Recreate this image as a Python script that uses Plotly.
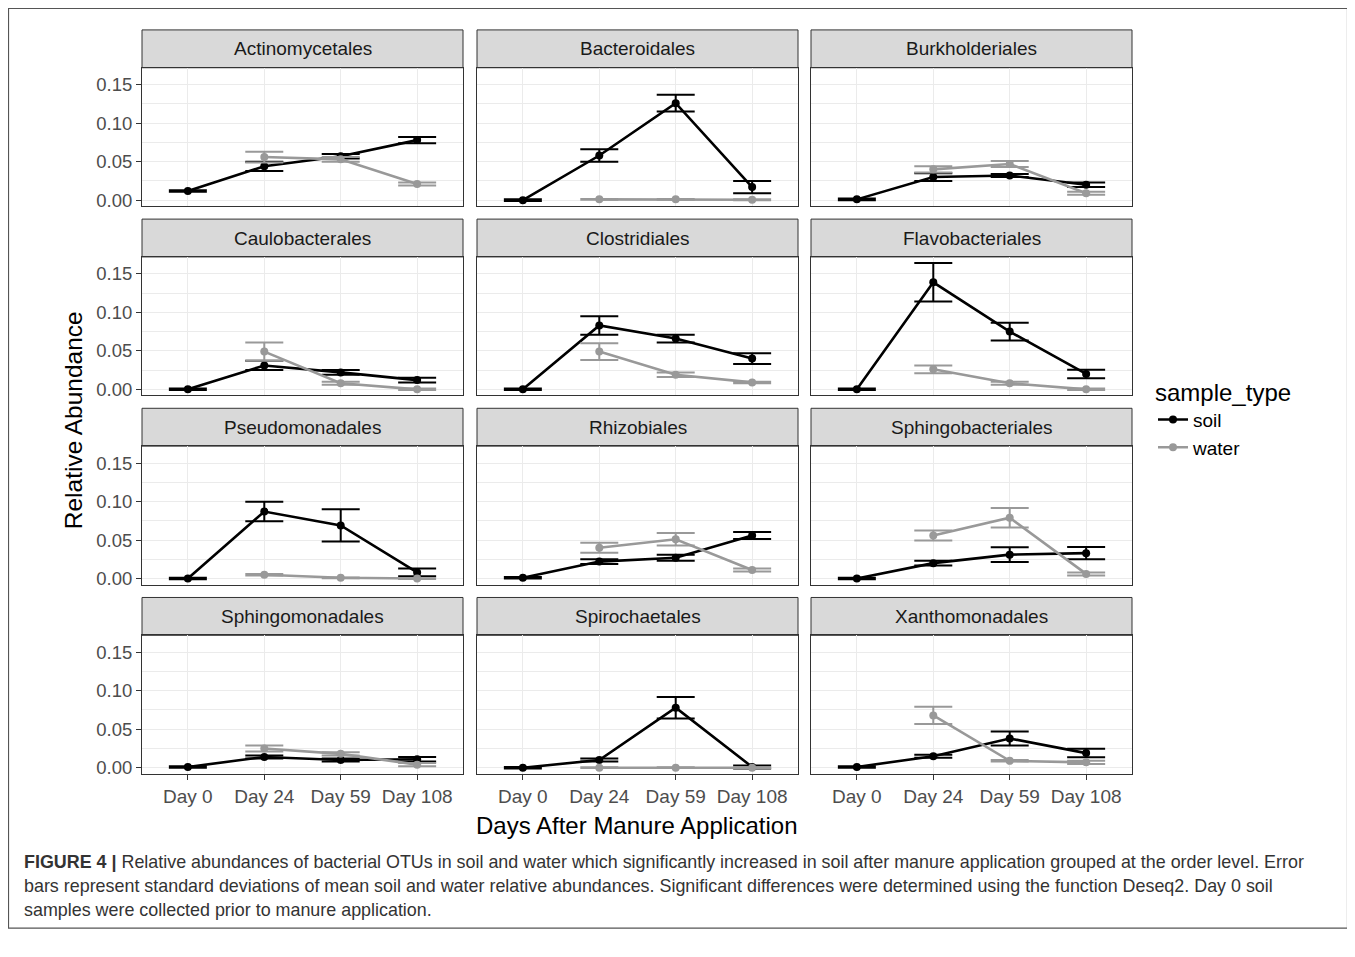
import plotly.graph_objects as go

# ---------------- data ----------------
days = ["Day 0", "Day 24", "Day 59", "Day 108"]
water_days = ["Day 24", "Day 59", "Day 108"]

orders = ["Actinomycetales", "Bacteroidales", "Burkholderiales",
          "Caulobacterales", "Clostridiales", "Flavobacteriales",
          "Pseudomonadales", "Rhizobiales", "Sphingobacteriales",
          "Sphingomonadales", "Spirochaetales", "Xanthomonadales"]

soil_mean = [
    [0.012, 0.044, 0.057, 0.078],
    [0.000, 0.058, 0.126, 0.017],
    [0.001, 0.030, 0.032, 0.020],
    [0.000, 0.031, 0.022, 0.012],
    [0.000, 0.083, 0.066, 0.040],
    [0.000, 0.139, 0.075, 0.020],
    [0.000, 0.087, 0.069, 0.008],
    [0.001, 0.022, 0.027, 0.056],
    [0.000, 0.020, 0.031, 0.033],
    [0.001, 0.014, 0.010, 0.011],
    [0.000, 0.010, 0.078, 0.001],
    [0.001, 0.015, 0.038, 0.019],
]
soil_sd = [
    [0.001, 0.006, 0.003, 0.004],
    [0.001, 0.008, 0.011, 0.008],
    [0.001, 0.005, 0.002, 0.003],
    [0.001, 0.006, 0.003, 0.003],
    [0.001, 0.012, 0.005, 0.007],
    [0.001, 0.025, 0.0115, 0.0056],
    [0.001, 0.0127, 0.021, 0.005],
    [0.001, 0.003, 0.004, 0.0045],
    [0.001, 0.003, 0.0095, 0.008],
    [0.001, 0.002, 0.002, 0.003],
    [0.001, 0.002, 0.014, 0.002],
    [0.001, 0.002, 0.009, 0.0055],
]
water_mean = [
    [0.056, 0.053, 0.021],
    [0.001, 0.001, 0.0005],
    [0.040, 0.047, 0.009],
    [0.049, 0.008, 0.000],
    [0.049, 0.019, 0.009],
    [0.026, 0.008, 0.000],
    [0.005, 0.001, 0.000],
    [0.040, 0.051, 0.011],
    [0.056, 0.079, 0.006],
    [0.025, 0.018, 0.004],
    [0.000, 0.000, 0.000],
    [0.068, 0.009, 0.007],
]
water_sd = [
    [0.007, 0.003, 0.002],
    [0.0005, 0.0005, 0.0005],
    [0.004, 0.004, 0.002],
    [0.012, 0.002, 0.001],
    [0.011, 0.003, 0.001],
    [0.005, 0.002, 0.001],
    [0.001, 0.0005, 0.0005],
    [0.0065, 0.008, 0.002],
    [0.0065, 0.0127, 0.002],
    [0.004, 0.002, 0.002],
    [0.0005, 0.0005, 0.0005],
    [0.0113, 0.001, 0.002],
]

y_ticks = [0.00, 0.05, 0.10, 0.15]
y_ticktext = ["0.00", "0.05", "0.10", "0.15"]

caption_lines = [
    "<b>FIGURE 4 |</b> Relative abundances of bacterial OTUs in soil and water which significantly increased in soil after manure application grouped at the order level. Error",
    "bars represent standard deviations of mean soil and water relative abundances. Significant differences were determined using the function Deseq2. Day 0 soil",
    "samples were collected prior to manure application.",
]

# ---------------- layout geometry (page pixels) ----------------
OFF = 8            # browser body margin
W, H = 1340, 941   # figure size so that the page fits the window
col_x = [(142, 463), (477, 798), (811, 1132)]
row_strip = [(30, 68), (220, 258), (410, 448), (600, 638)]
row_panel = [(68, 207), (258, 397), (448, 587), (638, 777)]

def px(x):
    return (x - OFF) / W

def py(y):
    return 1 - (y - OFF) / H

SOIL = "#000000"
WATER = "#999999"
FONT = "Liberation Sans, Arial, sans-serif"

fig = go.Figure()
layout = {}
shapes = []
annotations = []

xpos = {d: i for i, d in enumerate(days)}

for k, name in enumerate(orders):
    r, c = divmod(k, 3)
    idx = k + 1
    xa = "x" if idx == 1 else f"x{idx}"
    ya = "y" if idx == 1 else f"y{idx}"

    fig.add_trace(go.Scatter(
        x=[xpos[d] for d in days], y=soil_mean[k],
        error_y=dict(type="data", array=soil_sd[k], color=SOIL, thickness=2, width=19),
        mode="lines+markers", line=dict(color=SOIL, width=2.6),
        marker=dict(color=SOIL, size=8), name="soil", legendgroup="soil",
        showlegend=(k == 0), xaxis=xa, yaxis=ya))
    fig.add_trace(go.Scatter(
        x=[xpos[d] for d in water_days], y=water_mean[k],
        error_y=dict(type="data", array=water_sd[k], color=WATER, thickness=2, width=19),
        mode="lines+markers", line=dict(color=WATER, width=2.6),
        marker=dict(color=WATER, size=8), name="water", legendgroup="water",
        showlegend=(k == 0), xaxis=xa, yaxis=ya))

    x0, x1 = col_x[c]
    p0, p1 = row_panel[r]
    s0, s1 = row_strip[r]
    xkey = "xaxis" if idx == 1 else f"xaxis{idx}"
    ykey = "yaxis" if idx == 1 else f"yaxis{idx}"
    layout[xkey] = dict(
        domain=[px(x0), px(x1)], anchor=ya, range=[-0.6, 3.6],
        tickvals=list(range(4)), ticktext=days,
        showticklabels=(r == 3), ticks="outside" if r == 3 else "",
        ticklen=5, tickcolor="#333333", tickwidth=1,
        tickfont=dict(size=19, color="#4D4D4D", family=FONT),
        showgrid=True, gridcolor="#EBEBEB", gridwidth=1.2, zeroline=False,
        showline=True, mirror=True, linecolor="#333333", linewidth=1,
        fixedrange=True)
    layout[ykey] = dict(
        domain=[py(p1), py(p0)], anchor=xa, range=[-0.0078, 0.172],
        tickvals=y_ticks, ticktext=y_ticktext,
        showticklabels=(c == 0), ticks="outside" if c == 0 else "",
        ticklen=5, tickcolor="#333333", tickwidth=1,
        tickfont=dict(size=18.5, color="#4D4D4D", family=FONT),
        showgrid=True, gridcolor="#EBEBEB", gridwidth=1.2, zeroline=False,
        minor=dict(tickvals=[0.025, 0.075, 0.125], showgrid=True,
                   gridcolor="#EBEBEB", gridwidth=0.6, ticks=""),
        showline=True, mirror=True, linecolor="#333333", linewidth=1,
        fixedrange=True)

    shapes.append(dict(type="rect", xref="paper", yref="paper",
                       x0=px(x0), x1=px(x1), y0=py(s1), y1=py(s0),
                       fillcolor="#D9D9D9", line=dict(color="#333333", width=1),
                       layer="below"))
    annotations.append(dict(text=name, xref="paper", yref="paper",
                            x=px((x0 + x1) / 2), y=py((s0 + s1) / 2),
                            showarrow=False, xanchor="center", yanchor="middle",
                            font=dict(size=19, color="#1A1A1A", family=FONT)))

# outer frame
shapes.append(dict(type="rect", xref="paper", yref="paper",
                   x0=px(8.5), x1=px(1347.5), y0=py(932), y1=py(8.5),
                   line=dict(color="#555555", width=1.2), fillcolor="rgba(0,0,0,0)",
                   layer="below"))

# axis titles
annotations.append(dict(text="Relative Abundance", xref="paper", yref="paper",
                        x=px(73), y=py(422), textangle=-90, showarrow=False,
                        xanchor="center", yanchor="middle",
                        font=dict(size=24.5, color="#000000", family=FONT)))
annotations.append(dict(text="Days After Manure Application", xref="paper", yref="paper",
                        x=px(637), y=py(829), showarrow=False,
                        xanchor="center", yanchor="middle",
                        font=dict(size=24, color="#000000", family=FONT)))

# caption
for i, line in enumerate(caption_lines):
    annotations.append(dict(text=line, xref="paper", yref="paper",
                            x=px(22), y=py(866 + 24 * i), showarrow=False,
                            xanchor="left", yanchor="middle", align="left",
                            font=dict(size=17.9, color="#333333", family=FONT)))

fig.update_layout(
    width=W, height=H, margin=dict(l=0, r=0, t=0, b=0),
    paper_bgcolor="white", plot_bgcolor="white",
    shapes=shapes, annotations=annotations,
    legend=dict(title=dict(text="sample_type", font=dict(size=24, color="#000000", family=FONT)),
                x=px(1153), y=py(371), xanchor="left", yanchor="top",
                font=dict(size=19, color="#000000", family=FONT),
                bgcolor="rgba(0,0,0,0)", itemwidth=30, tracegroupgap=0),
    showlegend=True,
    **layout,
)

fig.write_html("out.html")
